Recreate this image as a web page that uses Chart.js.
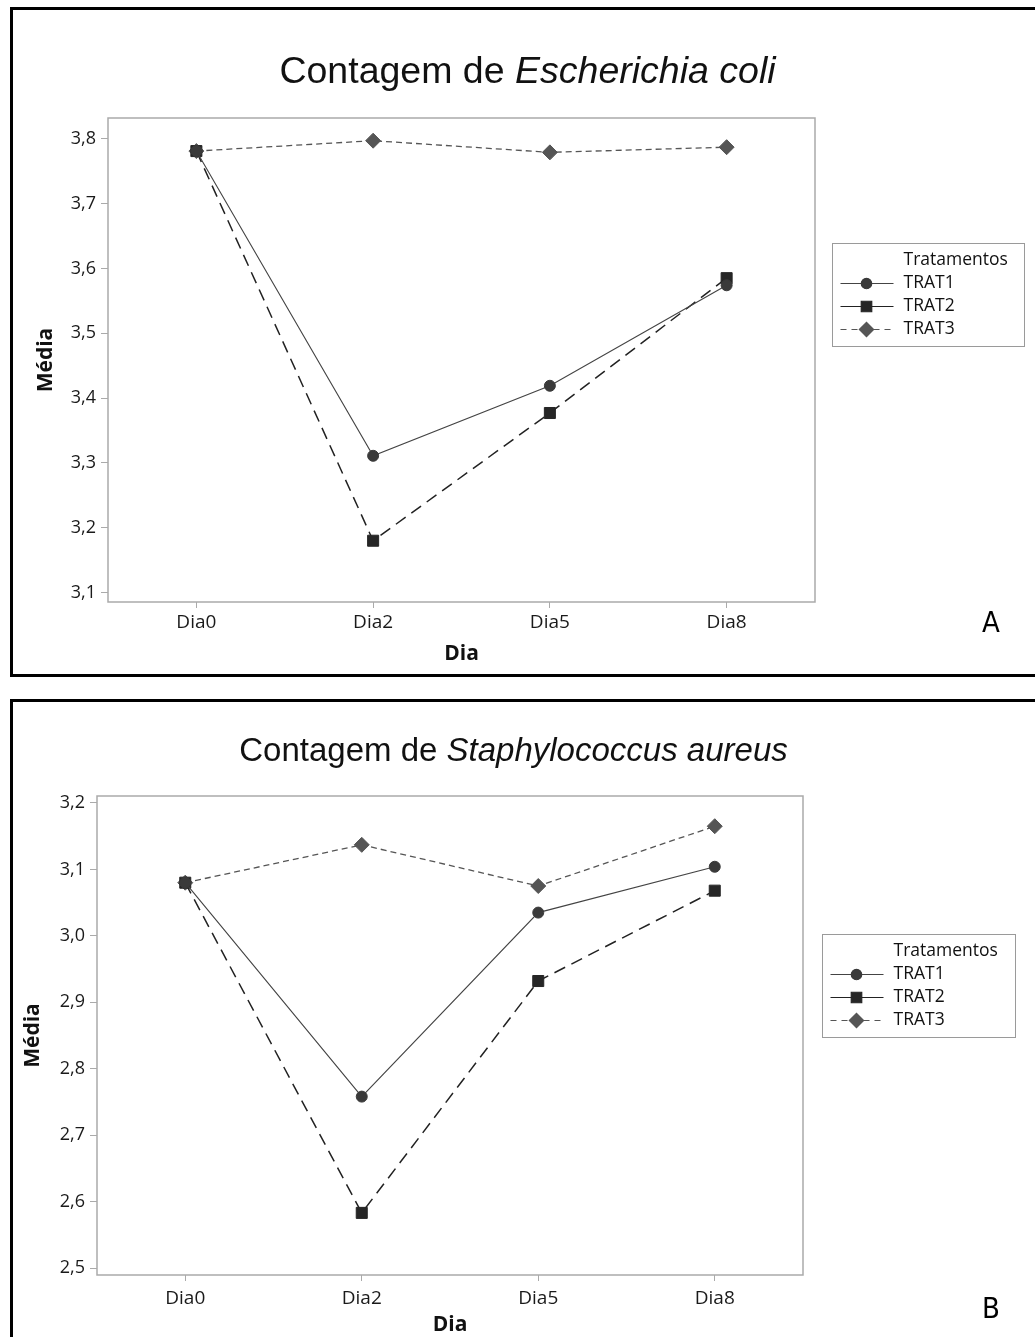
<!DOCTYPE html>
<html><head><meta charset="utf-8">
<script src="https://cdn.jsdelivr.net/npm/chart.js@4.4.1/dist/chart.umd.min.js"></script>
<style>
html,body{margin:0;padding:0;background:#fff;width:1035px;height:1337px;overflow:hidden;position:relative;}
.panel{position:absolute;border:3px solid #000;box-sizing:border-box;}
canvas{position:absolute;left:0;}
.title{position:absolute;width:1035px;text-align:center;font-family:"Liberation Sans",Arial,sans-serif;color:#111;white-space:nowrap;}
.letter{position:absolute;font-family:"DejaVu Sans Condensed","DejaVu Sans",sans-serif;font-size:29px;color:#000;}
</style></head>
<body>
<div class="panel" style="left:10px;top:7px;width:1040px;height:670px"></div>
<div class="panel" style="left:10px;top:699px;width:1040px;height:700px"></div>
<canvas id="cA" width="1035" height="690" style="top:0"></canvas>
<canvas id="cB" width="1035" height="660" style="top:690px"></canvas>
<div class="title" style="top:49px;left:10px;font-size:37.5px">Contagem de <i>Escherichia coli</i></div>
<div class="title" style="top:731px;left:-4px;font-size:33px">Contagem de <i>Staphylococcus aureus</i></div>
<div class="letter" style="left:982px;top:605px">A</div>
<div class="letter" style="left:982px;top:1291px">B</div>
<script>
const categories = ['Dia0', 'Dia2', 'Dia5', 'Dia8'];
const seriesNames = ['TRAT1', 'TRAT2', 'TRAT3'];
const legendTitle = 'Tratamentos';

const ecoliTrat1 = [3.781, 3.311, 3.419, 3.574];
const ecoliTrat2 = [3.781, 3.180, 3.377, 3.585];
const ecoliTrat3 = [3.781, 3.797, 3.779, 3.787];
const ecoliYTicks = [3.1, 3.2, 3.3, 3.4, 3.5, 3.6, 3.7, 3.8];

const staphTrat1 = [3.080, 2.758, 3.035, 3.104];
const staphTrat2 = [3.080, 2.583, 2.932, 3.068];
const staphTrat3 = [3.080, 3.137, 3.075, 3.165];
const staphYTicks = [2.5, 2.6, 2.7, 2.8, 2.9, 3.0, 3.1, 3.2];

const styles = [
  {color:'#3a3a3a', line:'#444', width:1.1, dash:[], legendDash:[], point:'circle', radius:5.5},
  {color:'#262626', line:'#222', width:1.5, dash:[12,7], legendDash:[], point:'rect', radius:7.8},
  {color:'#555555', line:'#555', width:1.3, dash:[6,4], legendDash:[6,5], point:'rectRot', radius:7.5}
];

const framePlugin = {
  id: 'frameLegend',
  afterDraw(chart, args, opts) {
    const {ctx, chartArea: a} = chart;
    ctx.save();
    ctx.setLineDash([]);
    ctx.strokeStyle = '#aaaaaa'; ctx.lineWidth = 1.5;
    ctx.strokeRect(a.left, a.top, a.right - a.left, a.bottom - a.top);
    const x0 = Math.round(a.right + opts.dx) + 0.5, y0 = Math.round(a.top + opts.dy) + 0.5;
    ctx.strokeStyle = '#9a9a9a'; ctx.lineWidth = 1;
    ctx.strokeRect(x0, y0, opts.w, opts.h);
    ctx.fillStyle = '#111';
    ctx.font = '17.5px "Open Sans", sans-serif';
    ctx.textBaseline = 'middle'; ctx.textAlign = 'left';
    ctx.fillText(legendTitle, x0 + 71, y0 + 17);
    chart.data.datasets.forEach((ds, i) => {
      const st = styles[i];
      const y = y0 + 40 + i * 23;
      ctx.strokeStyle = st.line; ctx.lineWidth = 1.2;
      ctx.setLineDash(st.legendDash);
      ctx.beginPath(); ctx.moveTo(x0 + 8, y); ctx.lineTo(x0 + 61, y); ctx.stroke();
      ctx.setLineDash([]);
      ctx.fillStyle = st.color; ctx.strokeStyle = st.color;
      Chart.helpers.drawPoint(ctx, {pointStyle: st.point, radius: st.radius * 0.95, rotation: 0, borderWidth: 1}, x0 + 34, y);
      ctx.fillStyle = '#111';
      ctx.fillText(ds.label, x0 + 71, y);
    });
    ctx.restore();
  }
};

function makeChart(id, series, yTicks, yMin, yMax, L) {
  const datasets = series.map((vals, i) => ({
    label: seriesNames[i],
    data: vals,
    borderColor: styles[i].line,
    borderWidth: styles[i].width,
    borderDash: styles[i].dash,
    backgroundColor: styles[i].color,
    pointBackgroundColor: styles[i].color,
    pointBorderColor: styles[i].color,
    pointStyle: styles[i].point,
    pointRadius: styles[i].radius,
    pointBorderWidth: 1,
    tension: 0,
    fill: false
  }));
  return new Chart(document.getElementById(id), {
    type: 'line',
    data: {labels: categories, datasets: datasets},
    options: {
      responsive: false, animation: false, devicePixelRatio: 1,
      layout: {padding: {top: L.top, right: L.right, bottom: L.bottom, left: 0}},
      plugins: {legend: {display: false}, title: {display: false}, tooltip: {enabled: false},
        frameLegend: L.legend},
      scales: {
        x: {
          offset: true,
          grid: {display: true, drawOnChartArea: false, drawTicks: true, tickLength: 6, color: '#aaaaaa', offset: false},
          border: {display: false},
          ticks: {color: '#1a1a1a', font: {family: '"Open Sans", sans-serif', size: 19}, padding: L.xTickPad},
          title: {display: true, text: 'Dia', color: '#111', font: {family: '"Open Sans", sans-serif', size: 21, weight: 'bold'}, padding: {top: 0, bottom: L.xTitlePad}},
          afterFit(s) { s.height = L.xHeight; }
        },
        y: {
          min: yMin, max: yMax,
          afterBuildTicks(s) { s.ticks = yTicks.map(v => ({value: v})); },
          grid: {display: true, drawOnChartArea: false, drawTicks: true, tickLength: 7, color: '#aaaaaa'},
          border: {display: false},
          ticks: {color: '#1a1a1a', font: {family: '"Open Sans", sans-serif', size: 18}, padding: 5,
            callback: v => v.toFixed(1).replace('.', ',')},
          title: {display: true, text: 'Média', color: '#111', font: {family: '"Open Sans", sans-serif', size: 21, weight: 'bold'}, padding: {top: L.yTitlePad, bottom: 0}},
          afterFit(s) { s.width = L.yWidth; }
        }
      }
    },
    plugins: [framePlugin]
  });
}

makeChart('cA', [ecoliTrat1, ecoliTrat2, ecoliTrat3], ecoliYTicks, 3.0855, 3.832, {
  top: 118, right: 220, bottom: 13, xHeight: 75, yWidth: 108,
  xTickPad: 3, xTitlePad: 10, yTitlePad: 33,
  legend: {dx: 17, dy: 125, w: 192, h: 103}
});
makeChart('cB', [staphTrat1, staphTrat2, staphTrat3], staphYTicks, 2.4895, 3.2105, {
  top: 106, right: 232, bottom: 10, xHeight: 65, yWidth: 97,
  xTickPad: 6, xTitlePad: 2, yTitlePad: 20,
  legend: {dx: 19, dy: 138, w: 193, h: 103}
});
</script>
</body></html>
